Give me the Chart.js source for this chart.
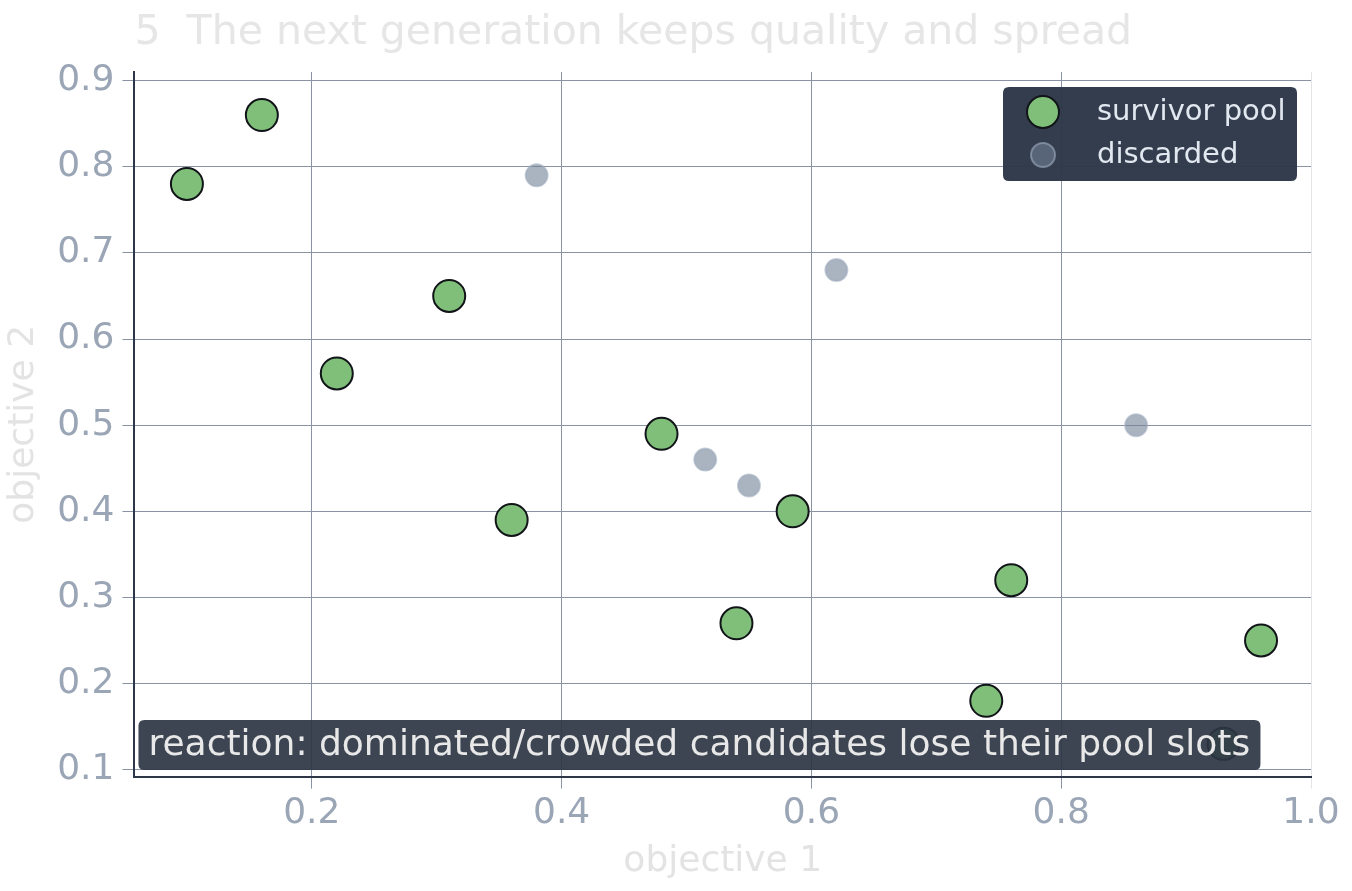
<!DOCTYPE html>
<html>
<head>
<meta charset="utf-8">
<script src="https://cdn.jsdelivr.net/npm/chart.js@4.4.1/dist/chart.umd.min.js"></script>
<style>
  html, body { margin: 0; padding: 0; background: #ffffff; }
  #wrap { width: 1352px; height: 891px; }
</style>
</head>
<body>
<div id="wrap"><canvas id="paretoChart"></canvas></div>
<script>
const chartTitle = '5  The next generation keeps quality and spread';
const noteText = 'reaction: dominated/crowded candidates lose their pool slots';

// survivor pool
const survivorX = [0.10, 0.16, 0.22, 0.31, 0.36, 0.48, 0.54, 0.585, 0.74, 0.76, 0.93, 0.96];
const survivorY = [0.78, 0.86, 0.56, 0.65, 0.39, 0.49, 0.27, 0.40, 0.18, 0.32, 0.13, 0.25];

// discarded
const discardedX = [0.38, 0.515, 0.55, 0.62, 0.86];
const discardedY = [0.79, 0.46, 0.43, 0.68, 0.50];

const xTicks = [0.2, 0.4, 0.6, 0.8, 1.0];
const yTicks = [0.1, 0.2, 0.3, 0.4, 0.5, 0.6, 0.7, 0.8, 0.9];

const font = 'DejaVu Sans';

function toPoints(xs, ys) {
    return xs.map((x, i) => ({ x: x, y: ys[i] }));
}

function roundRect(ctx, x, y, w, h, r) {
    ctx.beginPath();
    ctx.moveTo(x + r, y);
    ctx.lineTo(x + w - r, y);
    ctx.quadraticCurveTo(x + w, y, x + w, y + r);
    ctx.lineTo(x + w, y + h - r);
    ctx.quadraticCurveTo(x + w, y + h, x + w - r, y + h);
    ctx.lineTo(x + r, y + h);
    ctx.quadraticCurveTo(x, y + h, x, y + h - r);
    ctx.lineTo(x, y + r);
    ctx.quadraticCurveTo(x, y, x + r, y);
    ctx.closePath();
}

// title, legend box and the note box drawn on top
const overlayPlugin = {
    id: 'overlay',
    afterDraw(chart) {
        const ctx = chart.ctx;
        const area = chart.chartArea;
        ctx.save();

        // title
        ctx.font = '41px "' + font + '"';
        ctx.fillStyle = '#e6e6e6';
        ctx.textBaseline = 'middle';
        ctx.textAlign = 'left';
        ctx.fillText(chartTitle, area.left, 33);

        // legend
        const lx = area.right - 308, ly = area.top + 15;
        roundRect(ctx, lx, ly, 294, 94, 6);
        ctx.fillStyle = 'rgba(45,55,72,0.97)';
        ctx.fill();
        chart.data.datasets.forEach((ds, i) => {
            const cy = ly + 25 + i * 43;
            ctx.beginPath();
            ctx.arc(lx + 40, cy, i === 0 ? ds.pointRadius : ds.pointRadius + 1, 0, Math.PI * 2);
            ctx.fillStyle = ds.backgroundColor;
            ctx.fill();
            ctx.lineWidth = ds.borderWidth;
            ctx.strokeStyle = ds.borderColor;
            ctx.stroke();
            ctx.font = '29px "' + font + '"';
            ctx.fillStyle = '#e2e8f0';
            ctx.textAlign = 'left';
            ctx.fillText(ds.label, lx + 94, cy);
        });

        // note box
        roundRect(ctx, area.left + 4, 720, 1122, 50, 6);
        ctx.fillStyle = 'rgba(45,53,68,0.92)';
        ctx.fill();
        ctx.font = '36px "' + font + '"';
        ctx.fillStyle = '#e8e8e8';
        ctx.fillText(noteText, area.left + 14, 746);
        ctx.restore();
    }
};

new Chart(document.getElementById('paretoChart'), {
    type: 'scatter',
    data: {
        datasets: [
            {
                label: 'survivor pool',
                data: toPoints(survivorX, survivorY),
                backgroundColor: '#80bf79',
                borderColor: '#111418',
                borderWidth: 2,
                pointRadius: 16,
                pointHoverRadius: 16
            },
            {
                label: 'discarded',
                data: toPoints(discardedX, discardedY),
                backgroundColor: 'rgba(113,128,150,0.6)',
                borderColor: 'rgba(160,174,192,0.6)',
                borderWidth: 2,
                pointRadius: 11,
                pointHoverRadius: 11
            }
        ]
    },
    options: {
        responsive: true,
        maintainAspectRatio: false,
        animation: false,
        layout: {
            padding: { top: 72, right: 41, bottom: 8, left: 2 }
        },
        plugins: {
            legend: { display: false },
            title: { display: false },
            tooltip: { enabled: false }
        },
        scales: {
            x: {
                type: 'linear',
                min: 0.058,
                max: 1.0,
                afterBuildTicks: axis => {
                    axis.ticks = xTicks.map(v => ({ value: v }));
                },
                ticks: {
                    color: '#9aa5b5',
                    font: { family: font, size: 36 },
                    padding: 3,
                    callback: value => value.toFixed(1)
                },
                grid: {
                    color: ctx => (ctx.tick && ctx.tick.value === 1.0) ? '#e2e4e8' : '#8a93a3',
                    lineWidth: 1,
                    tickLength: 12
                },
                border: { color: '#2d3748', width: 2 },
                title: {
                    display: true,
                    text: 'objective 1',
                    color: '#e3e3e3',
                    font: { family: font, size: 36 },
                    padding: { top: 2, bottom: 0 }
                }
            },
            y: {
                type: 'linear',
                min: 0.092,
                max: 0.91,
                afterBuildTicks: axis => {
                    axis.ticks = yTicks.map(v => ({ value: v }));
                },
                ticks: {
                    color: '#9aa5b5',
                    font: { family: font, size: 36 },
                    padding: 8,
                    callback: value => value.toFixed(1)
                },
                grid: {
                    color: '#8a93a3',
                    lineWidth: 1,
                    tickLength: 12
                },
                border: { color: '#2d3748', width: 2 },
                title: {
                    display: true,
                    text: 'objective 2',
                    color: '#e3e3e3',
                    font: { family: font, size: 36 },
                    padding: { top: 0, bottom: 4 }
                }
            }
        }
    },
    plugins: [overlayPlugin]
});
</script>
</body>
</html>
